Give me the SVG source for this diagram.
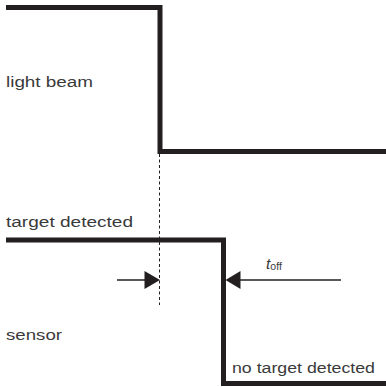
<svg xmlns="http://www.w3.org/2000/svg" width="386" height="387" viewBox="0 0 386 387">
<style>
.sig{fill:none;stroke:#231f20;stroke-width:5;stroke-linejoin:miter;stroke-linecap:butt}
.lbl{font-family:"Liberation Sans",Arial,sans-serif;font-size:15.5px;fill:#3a3a3a}
.dash{fill:none;stroke:#231f20;stroke-width:1;stroke-dasharray:3,2.5}
.dim{fill:none;stroke:#231f20;stroke-width:1.5}
.head{fill:#231f20}
</style>
<rect width="386" height="387" fill="#fff"/>
<g id="light-beam">
<path class="sig" d="M6,7.5 H160 V151.5 H386"/>
<text class="lbl" x="6" y="87" textLength="87" lengthAdjust="spacingAndGlyphs">light beam</text>
</g>
<g id="sensor">
<path class="sig" d="M6,240 H223.5 V383.5 H386"/>
<text class="lbl" x="6" y="227" textLength="127" lengthAdjust="spacingAndGlyphs">target detected</text>
<text class="lbl" x="6" y="340" textLength="56" lengthAdjust="spacingAndGlyphs">sensor</text>
<text class="lbl" x="232" y="373" textLength="143" lengthAdjust="spacingAndGlyphs">no target detected</text>
</g>
<g id="connectors">
<line class="dash" x1="159.5" y1="154" x2="159.5" y2="305"/>
<line class="dim" x1="117" y1="280" x2="150" y2="280"/>
<polygon class="head" points="160,280 144.5,271 144.5,289"/>
<line class="dim" x1="235" y1="280" x2="341" y2="280"/>
<polygon class="head" points="225.5,280 240.5,271 240.5,289"/>
</g>
<g id="toff-label">
<text class="lbl" x="266" y="269" font-style="italic" font-size="16">t<tspan font-size="10.5" font-style="normal" dy="1">off</tspan></text>
</g>
</svg>
